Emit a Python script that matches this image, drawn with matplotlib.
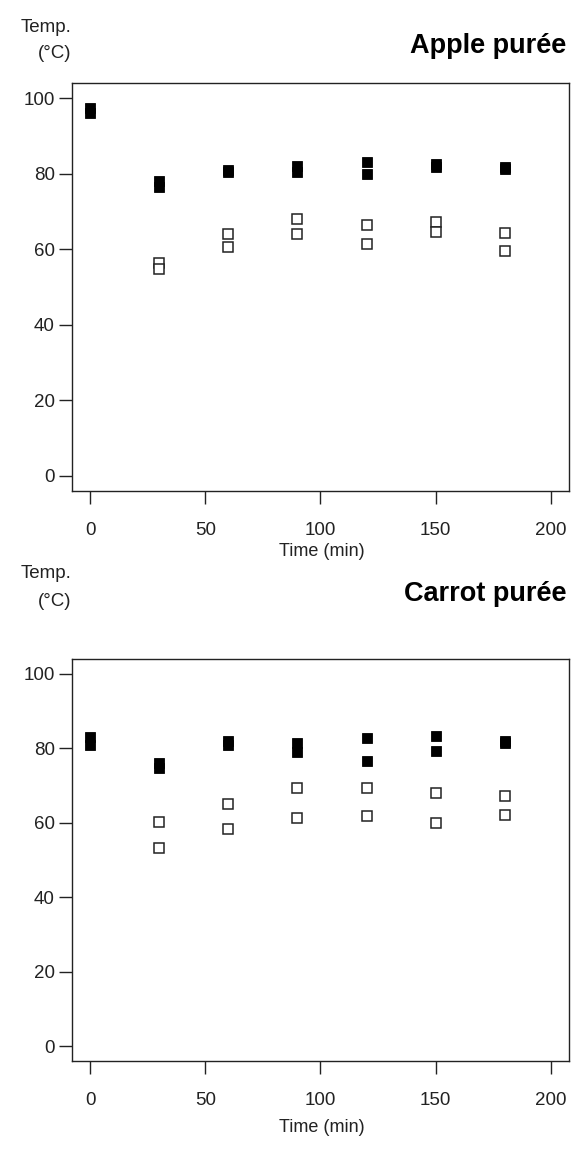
import numpy as np
import matplotlib
matplotlib.use("Agg")
import matplotlib.pyplot as plt

plt.rcParams['font.family'] = ['Liberation Sans', 'DejaVu Sans']

# -------------------------
# DATA
# -------------------------
# Apple puree: filled = upper readings, open = lower readings
apple_filled_t = [0, 0, 30, 30, 60, 60, 90, 90, 120, 120, 150, 150, 180, 180]
apple_filled_T = [97.5, 96, 78, 76.5, 81, 80.5, 82, 80.5, 83, 80, 82.5, 81.8, 81.8, 81.2]
apple_open_t = [30, 30, 60, 60, 90, 90, 120, 120, 150, 150, 180, 180]
apple_open_T = [56.3, 54.7, 64, 60.5, 68, 64, 66.5, 61.5, 67.3, 64.5, 64.3, 59.4]

# Carrot puree
carrot_filled_t = [0, 0, 30, 30, 60, 60, 90, 90, 120, 120, 150, 150, 180, 180]
carrot_filled_T = [83, 81, 76, 74.8, 82, 81, 81.5, 79, 82.9, 76.7, 83.2, 79.3, 82, 81.4]
carrot_open_t = [30, 30, 60, 60, 90, 90, 120, 120, 150, 150, 180, 180]
carrot_open_T = [60.1, 53.3, 65.1, 58.3, 69.3, 61.2, 69.3, 61.8, 67.9, 60.0, 67.1, 62.2]

x_ticks = [0, 50, 100, 150, 200]
y_ticks = [0, 20, 40, 60, 80, 100]

W, H = 578, 1163
fig = plt.figure(figsize=(W / 100, H / 100), dpi=100)


def px_axes(left, top, right, bottom):
    return fig.add_axes([left / W, 1 - bottom / H, (right - left) / W, (bottom - top) / H])


def panel(ax, ft, fT, ot, oT):
    ax.plot(ft, fT, 's', color='black', markersize=6.8, markeredgewidth=0.6, linestyle='none')
    ax.plot(ot, oT, 's', markerfacecolor='white', markeredgecolor='#222222',
            markersize=6.6, markeredgewidth=1.1, linestyle='none')
    ax.set_xlim(-8, 208)
    ax.set_ylim(-4, 104)
    ax.set_xticks(x_ticks)
    ax.set_yticks(y_ticks)
    ax.tick_params(direction='out', length=9.5, width=1.0, labelsize=13.5,
                   colors='#222222')
    ax.tick_params(axis='x', pad=13)
    ax.tick_params(axis='y', pad=3)
    for s in ax.spines.values():
        s.set_linewidth(1.0)
        s.set_color('#222222')


# -------------------------
# TOP: APPLE
# -------------------------
ax1 = px_axes(72, 83, 569, 491)
panel(ax1, apple_filled_t, apple_filled_T, apple_open_t, apple_open_T)
fig.text(46 / W, 1 - 27 / H, "Temp.", ha='center', va='center', fontsize=13.5, color='#222222')
fig.text(55 / W, 1 - 53 / H, "(°C)", ha='center', va='center', fontsize=13.5, color='#222222')
fig.text(566 / W, 1 - 46 / H, "Apple purée", ha='right', va='center', fontsize=19.5,
         fontweight='bold', color='black')
fig.text(322 / W, 1 - 552 / H, "Time (min)", ha='center', va='center', fontsize=13, color='#222222')

# -------------------------
# BOTTOM: CARROT
# -------------------------
ax2 = px_axes(72, 659, 569, 1061)
panel(ax2, carrot_filled_t, carrot_filled_T, carrot_open_t, carrot_open_T)
fig.text(46 / W, 1 - 574 / H, "Temp.", ha='center', va='center', fontsize=13.5, color='#222222')
fig.text(55 / W, 1 - 601 / H, "(°C)", ha='center', va='center', fontsize=13.5, color='#222222')
fig.text(566 / W, 1 - 594 / H, "Carrot purée", ha='right', va='center', fontsize=19.5,
         fontweight='bold', color='black')
fig.text(322 / W, 1 - 1128 / H, "Time (min)", ha='center', va='center', fontsize=13, color='#222222')

fig.savefig("out.png", dpi=100)
